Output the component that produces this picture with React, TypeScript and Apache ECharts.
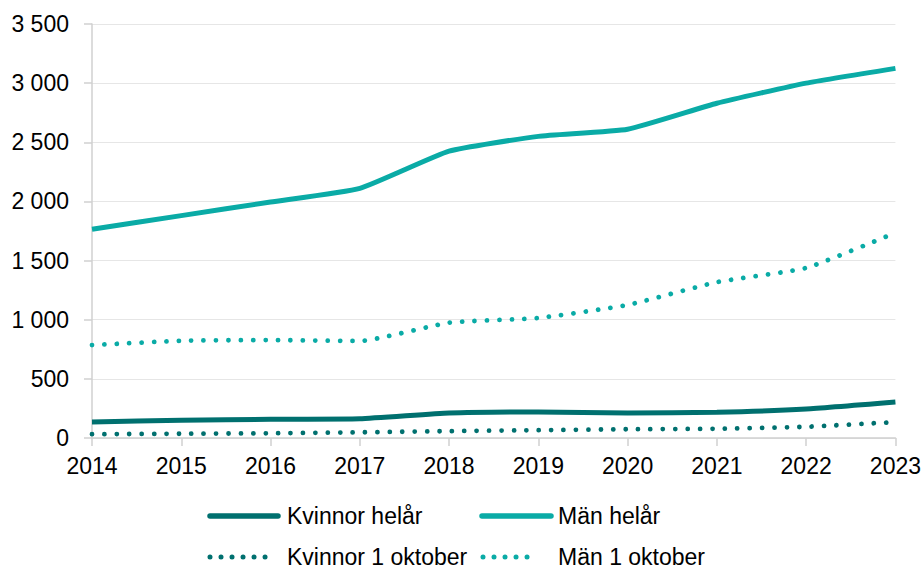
import React, { useEffect, useRef } from "react";
import * as echarts from "echarts";

const years = ["2014", "2015", "2016", "2017", "2018", "2019", "2020", "2021", "2022", "2023"];
const kvinnorHelar = [135, 150, 158, 162, 211, 220, 211, 218, 245, 304];
const manHelar = [1765, 1880, 1995, 2110, 2425, 2550, 2610, 2830, 3000, 3125];
const kvinnor1Okt = [32, 36, 40, 48, 58, 66, 74, 78, 95, 135];
const man1Okt = [786, 822, 828, 820, 975, 1015, 1125, 1318, 1438, 1735];

const seriesNames = ["Kvinnor helår", "Män helår", "Kvinnor 1 oktober", "Män 1 oktober"];

const DARK = "#00706F";
const LIGHT = "#0AABA6";

const fmt = (v: number) => {
  const s = String(Math.round(v));
  return s.replace(/\B(?=(\d{3})+(?!\d))/g, " ");
};

export default function App() {
  const ref = useRef<HTMLDivElement>(null);
  useEffect(() => {
    if (!ref.current) return;
    const chart = echarts.init(ref.current, undefined, { renderer: "svg" });
    const font = "Liberation Sans, Arial, sans-serif";
    const FS = 23;
    const dotted = (color: string) => ({
      color,
      width: 4.8,
      type: [0.01, 12.4] as any,
      cap: "round" as const,
    });
    const solid = (color: string) => ({ color, width: 5, type: "solid" as const });

    // legend drawn as graphic
    const legendItems = [
      { name: seriesNames[0], color: DARK, dotted: false, x0: 210, x1: 278, tx: 287, y: 516 },
      { name: seriesNames[1], color: LIGHT, dotted: false, x0: 482, x1: 551, tx: 558, y: 516 },
      { name: seriesNames[2], color: DARK, dotted: true, x0: 210, x1: 276, tx: 287, y: 557 },
      { name: seriesNames[3], color: LIGHT, dotted: true, x0: 483, x1: 538, tx: 558, y: 557 },
    ];
    const graphics: any[] = [];
    legendItems.forEach((it) => {
      graphics.push({
        type: "line",
        shape: { x1: it.x0, y1: it.y, x2: it.x1, y2: it.y },
        style: it.dotted
          ? { stroke: it.color, lineWidth: 5, lineDash: [0.01, 11], lineCap: "round" }
          : { stroke: it.color, lineWidth: 5.5, lineCap: "round" },
      });
      graphics.push({
        type: "text",
        x: it.tx,
        y: it.y,
        style: {
          text: it.name,
          fontSize: FS,
          lineHeight: 20,
          fontFamily: font,
          fill: "#000",
          textVerticalAlign: "middle",
          verticalAlign: "middle",
        },
      });
    });

    chart.setOption({
      animation: false,
      textStyle: { fontFamily: font },
      grid: { left: 92, right: 27, top: 24, bottom: 134, containLabel: false },
      xAxis: {
        type: "category",
        data: years,
        boundaryGap: false,
        axisLine: { show: true, lineStyle: { color: "#D0D0D0", width: 1.5 } },
        axisTick: { show: true, length: 8, lineStyle: { color: "#D0D0D0", width: 1.5 } },
        axisLabel: { fontSize: FS, color: "#000", margin: 16, fontFamily: font },
        splitLine: { show: false },
      },
      yAxis: {
        type: "value",
        min: 0,
        max: 3500,
        interval: 500,
        axisLine: { show: true, lineStyle: { color: "#D0D0D0", width: 1.5 } },
        axisTick: { show: true, length: 8, lineStyle: { color: "#D0D0D0", width: 1.5 } },
        axisLabel: { fontSize: FS, color: "#000", margin: 23, fontFamily: font, formatter: (v: number) => fmt(v) },
        splitLine: { show: true, lineStyle: { color: "#E6E6E6", width: 1.2 } },
      },
      graphic: graphics,
      series: [
        {
          name: seriesNames[0],
          type: "line",
          data: kvinnorHelar,
          symbol: "none",
          smooth: 0.15,
          lineStyle: solid(DARK),
          itemStyle: { color: DARK },
        },
        {
          name: seriesNames[1],
          type: "line",
          data: manHelar,
          symbol: "none",
          smooth: 0.15,
          lineStyle: solid(LIGHT),
          itemStyle: { color: LIGHT },
        },
        {
          name: seriesNames[2],
          type: "line",
          data: kvinnor1Okt,
          symbol: "none",
          smooth: 0.15,
          lineStyle: dotted(DARK),
          itemStyle: { color: DARK },
        },
        {
          name: seriesNames[3],
          type: "line",
          data: man1Okt,
          symbol: "none",
          smooth: 0.15,
          lineStyle: dotted(LIGHT),
          itemStyle: { color: LIGHT },
        },
      ],
    });
    return () => chart.dispose();
  }, []);
  return (
    <div
      ref={ref}
      style={{ position: "fixed", left: 0, top: 0, width: 924, height: 572, background: "#fff" }}
    />
  );
}
